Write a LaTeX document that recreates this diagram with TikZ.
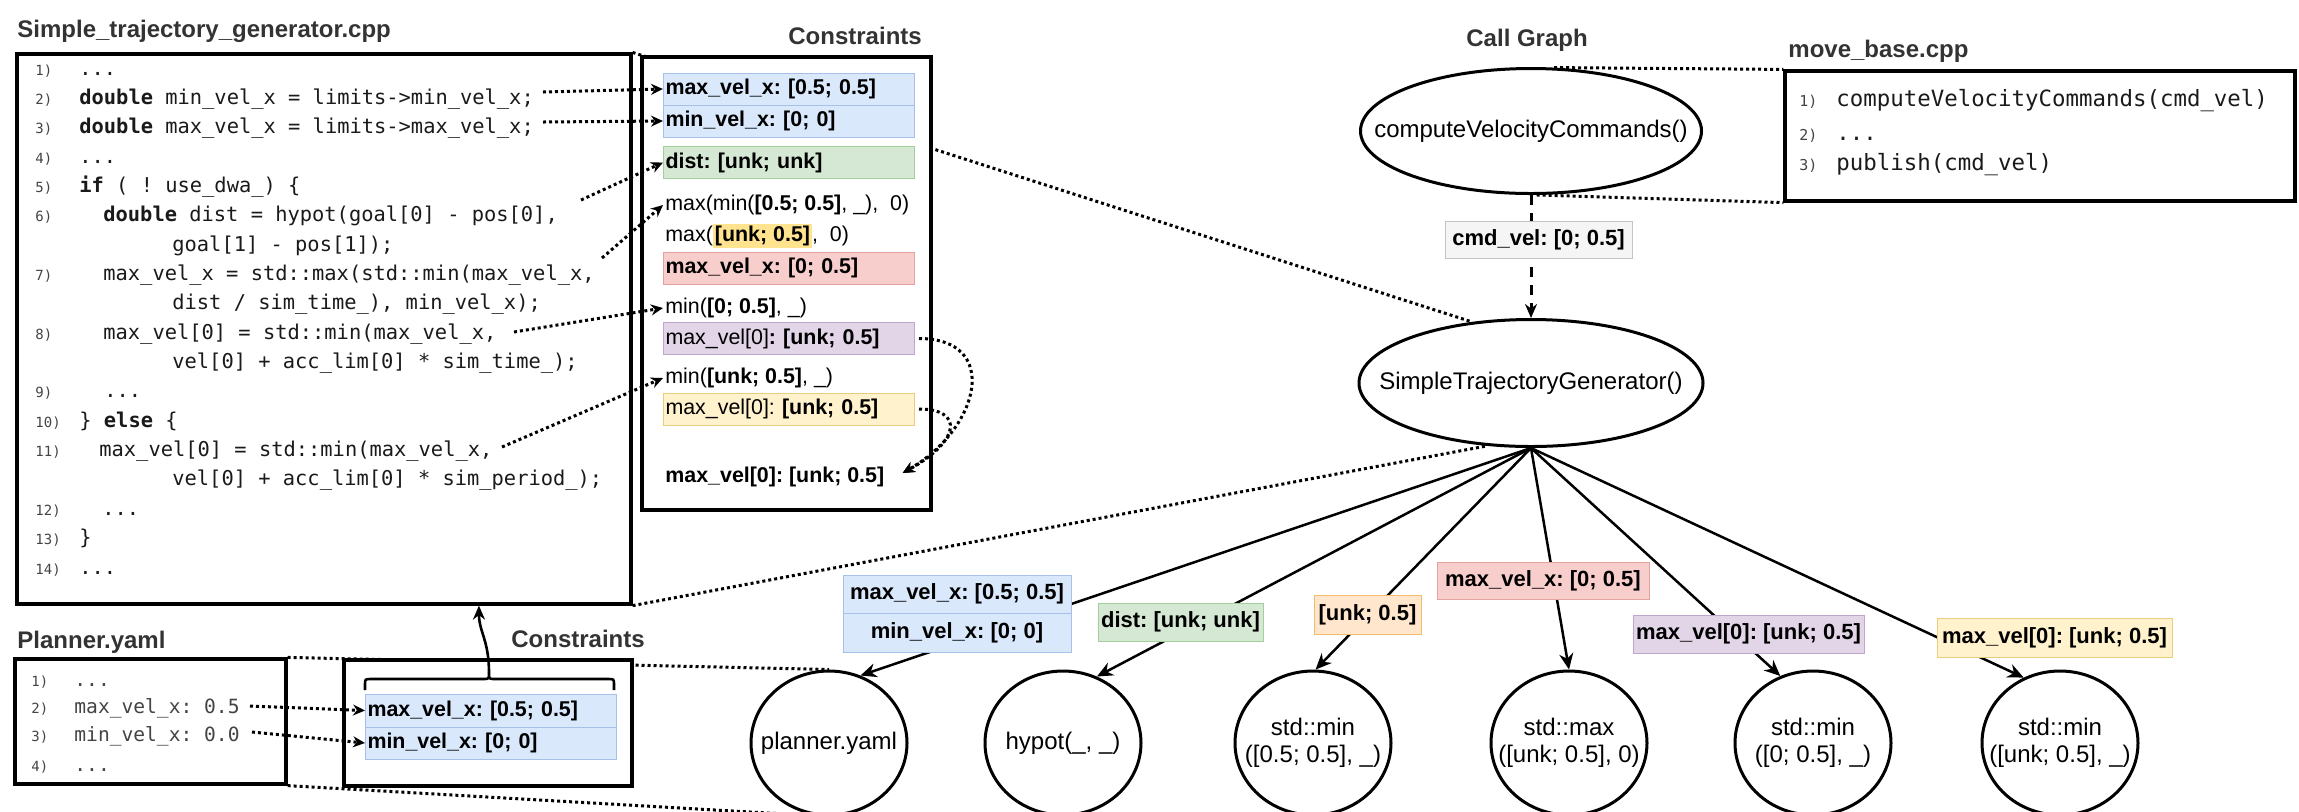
\documentclass[tikz,border=0pt]{standalone}
\usepackage{fontspec}
\setmainfont{Liberation Sans}
\newfontfamily\codefont{DejaVu Sans Mono}
\usetikzlibrary{arrows.meta,shapes.geometric,fit,calc}
\pgfdeclarelayer{bg}
\pgfsetlayers{bg,main}
\frenchspacing
\definecolor{titlegray}{HTML}{333333}
\definecolor{codegray}{HTML}{1A1A1A}
\definecolor{numgray}{HTML}{444444}
\definecolor{bluefill}{HTML}{DAE8FC}
\definecolor{bluedraw}{HTML}{A6C0E8}
\definecolor{greenfill}{HTML}{D5E8D4}
\definecolor{greendraw}{HTML}{A3CF9A}
\definecolor{redfill}{HTML}{F8CECC}
\definecolor{reddraw}{HTML}{E3A3A1}
\definecolor{purplefill}{HTML}{E1D5E7}
\definecolor{purpledraw}{HTML}{BFA6CC}
\definecolor{yellowfill}{HTML}{FFF2CC}
\definecolor{yellowdraw}{HTML}{E8CE7A}
\definecolor{orangefill}{HTML}{FFE6CC}
\definecolor{orangedraw}{HTML}{F2BC6B}
\definecolor{grayfill}{HTML}{F5F5F5}
\definecolor{graydraw}{HTML}{C4C4C4}
\definecolor{hlyellow}{HTML}{FFE38F}
\begin{document}
\begin{tikzpicture}[x=0.5pt,y=-0.5pt,
  box/.style={draw, line width=1.6pt, fill=white, inner sep=0pt},
  titletext/.style={anchor=base west, inner sep=0pt, text=titlegray, font=\fontsize{12}{14}\selectfont\bfseries},
  codeline/.style={anchor=base west, inner sep=0pt, text=codegray, font=\codefont\fontsize{10.2}{12}\selectfont},
  yamlline/.style={anchor=base west, inner sep=0pt, text=numgray, font=\codefont\fontsize{9.8}{12}\selectfont},
  mbline/.style={anchor=base west, inner sep=0pt, text=codegray, font=\codefont\fontsize{11.2}{13}\selectfont},
  numtext/.style={anchor=base west, inner sep=0pt, text=numgray, font=\codefont\fontsize{7}{8}\selectfont},
  zoomline/.style={line width=1.5pt, dash pattern=on 1.5pt off 1.5pt},
  dotarrow/.style={zoomline, -{Stealth[length=6pt,width=5.5pt]}},
  krow/.style={anchor=west, draw, line width=0.5pt, text width=123.5pt, align=left, inner xsep=1pt, inner ysep=0pt, minimum height=16pt, font=\fontsize{10.7}{12}\selectfont},
  ktext/.style={anchor=west, inner xsep=1pt, inner ysep=0pt, font=\fontsize{10.7}{12}\selectfont},
  elab/.style={draw, line width=0.5pt, inner sep=0pt, align=center, font=\fontsize{11}{13}\selectfont\bfseries},
  ell/.style={draw, ellipse, line width=1.5pt, inner sep=0pt},
  etext/.style={align=center, inner sep=0pt, font=\fontsize{12}{13.5}\selectfont},
  calledge/.style={line width=1.25pt, -{Stealth[length=8pt,width=7pt]}}
]
\useasboundingbox (0,0) rectangle (2299,811);

% ---------- titles ----------
\node[titletext] (ttlcode) at (17,37) {Simple\_trajectory\_generator.cpp};
\node[titletext] (ttlcons) at (788,44) {Constraints};
\node[titletext] (ttlcall) at (1466,46) {Call Graph};
\node[titletext] (ttlmb) at (1788,57) {move\_base.cpp};
\node[titletext] (ttlyaml) at (17,648) {Planner.yaml};
\node[titletext] (ttlcons2) at (511,647) {Constraints};

% ---------- code box ----------
\node[box, fit={(17,54) (631,604)}] (code) {};
\node[numtext] (n1) at (35,75) {1)};   \node[codeline] (c1) at (79,75) {...};
\node[numtext] (n2) at (35,104.4) {2)}; \node[codeline] (c2) at (79,104.4) {\textbf{double} min\_vel\_x = limits->min\_vel\_x;};
\node[numtext] (n3) at (35,133.7) {3)}; \node[codeline] (c3) at (79,133.7) {\textbf{double} max\_vel\_x = limits->max\_vel\_x;};
\node[numtext] (n4) at (35,163.1) {4)}; \node[codeline] (c4) at (79,163.1) {...};
\node[numtext] (n5) at (35,192.4) {5)}; \node[codeline] (c5) at (79,192.4) {\textbf{if} ( ! use\_dwa\_) \{};
\node[numtext] (n6) at (35,221.8) {6)}; \node[codeline] (c6) at (103,221.8) {\textbf{double} dist = hypot(goal[0] - pos[0],};
\node[codeline] (c6b) at (172,251.1) {goal[1] - pos[1]);};
\node[numtext] (n7) at (35,280.5) {7)}; \node[codeline] (c7) at (103,280.5) {max\_vel\_x = std::max(std::min(max\_vel\_x,};
\node[codeline] (c7b) at (172,309.8) {dist / sim\_time\_), min\_vel\_x);};
\node[numtext] (n8) at (35,339.2) {8)}; \node[codeline] (c8) at (103,339.2) {max\_vel[0] = std::min(max\_vel\_x,};
\node[codeline] (c8b) at (172,368.5) {vel[0] + acc\_lim[0] * sim\_time\_);};
\node[numtext] (n9) at (35,397.9) {9)}; \node[codeline] (c9) at (104,397.9) {...};
\node[numtext] (n10) at (35,427.2) {10)}; \node[codeline] (c10) at (79,427.2) {\} \textbf{else} \{};
\node[numtext] (n11) at (35,456.6) {11)}; \node[codeline] (c11) at (99,456.6) {max\_vel[0] = std::min(max\_vel\_x,};
\node[codeline] (c11b) at (172,485.9) {vel[0] + acc\_lim[0] * sim\_period\_);};
\node[numtext] (n12) at (35,515.3) {12)}; \node[codeline] (c12) at (102,515.3) {...};
\node[numtext] (n13) at (35,544.6) {13)}; \node[codeline] (c13) at (79,544.6) {\}};
\node[numtext] (n14) at (35,574) {14)}; \node[codeline] (c14) at (79,574) {...};

% ---------- constraints box 1 ----------
\node[box, fit={(642,57) (931,510)}] (cons) {};
\node[krow, fill=bluefill, draw=bluedraw] (k1) at (663,89) {\bfseries max\_vel\_x: [0.5; 0.5]};
\node[krow, fill=bluefill, draw=bluedraw] (k2) at (663,121) {\bfseries min\_vel\_x: [0; 0]};
\node[krow, fill=greenfill, draw=greendraw] (k3) at (663,162.5) {\bfseries dist: [unk; unk]};
\node[ktext] (t1) at (663,205) {max(min(\textbf{[0.5; 0.5]}, \_),\ \ 0)};
\node[ktext] (t2) at (663,236) {max({\fboxsep=1pt\colorbox{hlyellow}{\textbf{[unk; 0.5]}}},\ \ 0)};
\node[krow, fill=redfill, draw=reddraw] (k4) at (663,268) {\bfseries max\_vel\_x: [0; 0.5]};
\node[ktext] (t3) at (663,308) {min(\textbf{[0; 0.5]}, \_)};
\node[krow, fill=purplefill, draw=purpledraw] (k5) at (663,338.5) {max\_vel[0]\textbf{: [unk; 0.5]}};
\node[ktext] (t4) at (663,378) {min(\textbf{[unk; 0.5]}, \_)};
\node[krow, fill=yellowfill, draw=yellowdraw] (k6) at (663,409) {max\_vel[0]: \textbf{[unk; 0.5]}};
\node[ktext] (t5) at (663,477) {\bfseries max\_vel[0]: [unk; 0.5]};

% arrows code -> constraints
\coordinate (s2) at (543,92);
\coordinate (s3) at (543,122);
\coordinate (s6) at (581,200);
\coordinate (s7) at (602,258);
\coordinate (s8) at (514,332);
\coordinate (s11) at (502,447);
\draw[dotarrow] (s2) -- (k1.west);
\draw[dotarrow] (s3) -- (k2.west);
\draw[dotarrow] (s6) -- (k3.west);
\draw[dotarrow] (s7) -- (t1.west);
\draw[dotarrow] (s8) -- (t3.west);
\draw[dotarrow] (s11) -- (t4.west);
\coordinate (merge) at ([shift={(16,-4)}]t5.east);
\draw[dotarrow] ([xshift=2pt]k5.east) .. controls +(82,0) and +(78,-45) .. (merge);
\draw[dotarrow] ([xshift=2pt]k6.east) .. controls +(45,0) and +(58,-32) .. (merge);

% ---------- planner.yaml ----------
\node[box, fit={(15,659) (286,784)}] (pbox) {};
\node[numtext] (y1n) at (31,686) {1)}; \node[yamlline] (y1) at (74,686) {...};
\node[numtext] (y2n) at (31,713) {2)}; \node[yamlline] (y2) at (74,713) {max\_vel\_x: 0.5};
\node[numtext] (y3n) at (31,741) {3)}; \node[yamlline] (y3) at (74,741) {min\_vel\_x: 0.0};
\node[numtext] (y4n) at (31,771) {4)}; \node[yamlline] (y4) at (74,771) {...};

% ---------- constraints box 2 ----------
\node[box, fit={(344,660) (632,786)}] (cons2) {};
\node[krow, fill=bluefill, draw=bluedraw, minimum height=16.5pt] (b1) at (365,710.5) {\bfseries max\_vel\_x: [0.5; 0.5]};
\node[krow, fill=bluefill, draw=bluedraw] (b2) at (365,743) {\bfseries min\_vel\_x: [0; 0]};
\coordinate (ys2) at (250,706);
\coordinate (ys3) at (252,732);
\draw[dotarrow] (ys2) -- (b1.west);
\draw[dotarrow] (ys3) -- (b2.west);
% brace
\draw[line width=1.3pt] (365,690) -- (365,685) .. controls (365,679) .. (371,679) -- (483,679)
  .. controls (489,679) .. (489,673) .. controls (489,679) .. (495,679) -- (608,679)
  .. controls (614,679) .. (614,685) -- (614,690);
\coordinate (bt) at (489,673);
\draw[line width=1.3pt, -{Stealth[length=7pt,width=6pt]}] (bt) .. controls (489,640) and (479,632) .. ($(code.south west)!0.751!(code.south east)$);

% ---------- move_base.cpp ----------
\node[box, fit={(1785,71) (2295,201)}] (mb) {};
\node[numtext, font=\codefont\fontsize{7.5}{9}\selectfont] (m1n) at (1799,106) {1)}; \node[mbline] (m1) at (1836,106) {computeVelocityCommands(cmd\_vel)};
\node[numtext, font=\codefont\fontsize{7.5}{9}\selectfont] (m2n) at (1799,140) {2)}; \node[mbline] (m2) at (1836,140) {...};
\node[numtext, font=\codefont\fontsize{7.5}{9}\selectfont] (m3n) at (1799,170) {3)}; \node[mbline] (m3) at (1836,170) {publish(cmd\_vel)};

% ---------- call graph ----------
\node[ell, minimum width=170.5pt, minimum height=62.5pt] (cvc) at (1531,131) {};
\node[etext] (cvct) at (cvc) {computeVelocityCommands()};
\node[ell, minimum width=172pt, minimum height=63.5pt] (stg) at (1531,383) {};
\node[etext] (stgt) at (stg) {SimpleTrajectoryGenerator()};

\draw[line width=1.5pt, dash pattern=on 5pt off 4pt, -{Stealth[length=7pt,width=6pt]}] (cvc.south) -- (stg.north);
\node[elab, fill=grayfill, draw=graydraw, minimum width=93.5pt, minimum height=18.5pt] (cmd) at (1538.5,239.5) {cmd\_vel: [0; 0.5]};

\node[ell, minimum width=78pt, minimum height=72pt] (planner) at (829,743) {};
\node[etext] (plannert) at (planner) {planner.yaml};
\node[ell, minimum width=78pt, minimum height=72pt] (hypot) at (1063,743) {};
\node[etext] (hypott) at (hypot) {hypot(\_, \_)};
\node[ell, minimum width=78pt, minimum height=72pt] (min1) at (1313,743) {};
\node[etext] (min1t) at (min1) {std::min\\([0.5; 0.5], \_)};
\node[ell, minimum width=78pt, minimum height=72pt] (max1) at (1569,743) {};
\node[etext] (max1t) at (max1) {std::max\\([unk; 0.5], 0)};
\node[ell, minimum width=78pt, minimum height=72pt] (min2) at (1813,743) {};
\node[etext] (min2t) at (min2) {std::min\\([0; 0.5], \_)};
\node[ell, minimum width=78pt, minimum height=72pt] (min3) at (2060,743) {};
\node[etext] (min3t) at (min3) {std::min\\([unk; 0.5], \_)};

\draw[calledge] (stg.south) -- (planner.65);
\draw[calledge] (stg.south) -- (hypot.63);
\draw[calledge] (stg.south) -- (min1.88);
\draw[calledge] (stg.south) -- (max1.90);
\draw[calledge] (stg.south) -- (min2.116);
\draw[calledge] (stg.south) -- (min3.119);

\node[elab, fill=bluefill, draw=bluedraw, minimum width=114pt, minimum height=19pt] (lb1) at (957,594) {max\_vel\_x: [0.5; 0.5]};
\node[elab, fill=bluefill, draw=bluedraw, minimum width=114pt, minimum height=19.5pt] (lb2) at (957,632.5) {min\_vel\_x: [0; 0]};
\node[elab, fill=greenfill, draw=greendraw, minimum width=82.5pt, minimum height=19pt] (lg) at (1180.5,622) {dist: [unk; unk]};
\node[elab, fill=orangefill, draw=orangedraw, minimum width=53.5pt, minimum height=19.5pt] (lo) at (1367.5,614.5) {[unk; 0.5]};
\node[elab, fill=redfill, draw=reddraw, minimum width=106pt, minimum height=18.5pt] (lr) at (1543,580.5) {max\_vel\_x: [0; 0.5]};
\node[elab, fill=purplefill, draw=purpledraw, minimum width=115.5pt, minimum height=19pt] (lp) at (1748.5,634) {max\_vel[0]: [unk; 0.5]};
\node[elab, fill=yellowfill, draw=yellowdraw, minimum width=117.5pt, minimum height=19.5pt] (ly) at (2054.5,637.5) {max\_vel[0]: [unk; 0.5]};

% ---------- zoom lines (behind) ----------
\begin{pgfonlayer}{bg}
\draw[zoomline] (code.north east) -- (stg.134);
\draw[zoomline] (code.south east) -- (stg.235);
\draw[zoomline] (cvc.70) -- (mb.north west);
\draw[zoomline] (cvc.275) -- (mb.south west);
\draw[zoomline] (pbox.north east) -- (planner.north);
\draw[zoomline] (pbox.south east) -- (planner.south);
\end{pgfonlayer}
\end{tikzpicture}
\end{document}
